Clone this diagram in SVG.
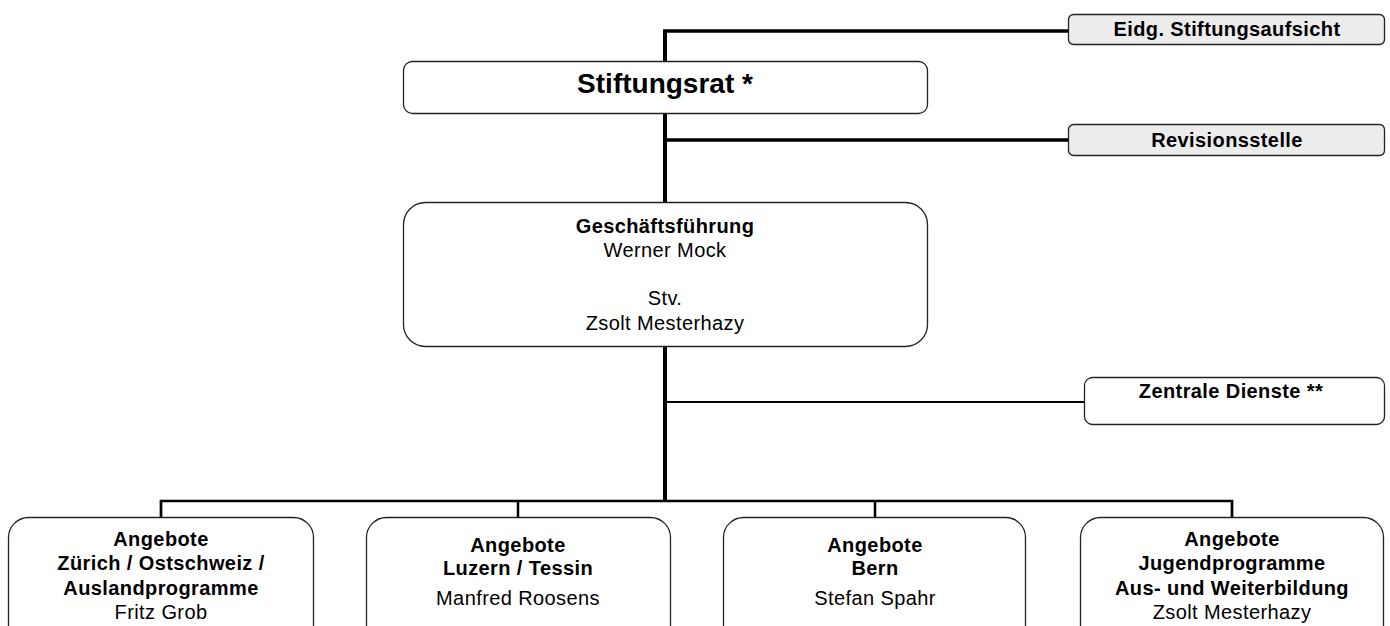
<svg xmlns="http://www.w3.org/2000/svg" width="1390" height="626" viewBox="0 0 1390 626">
<style>
.box{fill:#fff;stroke:#222;stroke-width:1.3}
.gbox{fill:#ececec;stroke:#222;stroke-width:1.3}
.t{font-family:"Liberation Sans",Arial,sans-serif;font-size:20px;letter-spacing:0.4px;fill:#000;text-anchor:middle}
.b{font-weight:bold}
.big{font-size:28px;letter-spacing:0}
.c{fill:none;stroke:#000;stroke-linecap:butt}
</style>
<rect width="1390" height="626" fill="#fff"/>
<g id="connectors">
<path class="c" d="M665 31V501" stroke-width="4"/>
<path class="c" d="M663 31H1069" stroke-width="3.3"/>
<path class="c" d="M665 140H1069" stroke-width="3.3"/>
<path class="c" d="M665 402H1084" stroke-width="2"/>
<path class="c" d="M161 517V501H1232V517" stroke-width="2.7"/>
<path class="c" d="M518 501V517M875 501V517" stroke-width="2.5"/>
</g>
<g id="aufsicht">
<rect class="gbox" x="1068.5" y="14.5" width="316" height="30" rx="5"/>
<text class="t b" x="1227" y="36">Eidg. Stiftungsaufsicht</text>
</g>
<g id="stiftungsrat">
<rect class="box" x="403.5" y="61.5" width="524" height="52" rx="9"/>
<text class="t b big" x="665" y="93">Stiftungsrat *</text>
</g>
<g id="revision">
<rect class="gbox" x="1068.5" y="124.5" width="316" height="31" rx="5"/>
<text class="t b" x="1227" y="147">Revisionsstelle</text>
</g>
<g id="geschaeftsfuehrung">
<rect class="box" x="403.5" y="202.5" width="524" height="144" rx="22"/>
<text class="t b" x="665" y="233">Geschäftsführung</text>
<text class="t" x="665" y="257">Werner Mock</text>
<text class="t" x="665" y="305">Stv.</text>
<text class="t" x="665" y="330">Zsolt Mesterhazy</text>
</g>
<g id="zentrale">
<rect class="box" x="1084.5" y="377.5" width="300" height="47" rx="8"/>
<text class="t b" x="1231" y="398">Zentrale Dienste **</text>
</g>
<g id="zuerich">
<rect class="box" x="8.5" y="517.5" width="305" height="130" rx="20"/>
<text class="t b" x="161" y="546">Angebote</text>
<text class="t b" x="161" y="570">Zürich / Ostschweiz /</text>
<text class="t b" x="161" y="595">Auslandprogramme</text>
<text class="t" x="161" y="619">Fritz Grob</text>
</g>
<g id="luzern">
<rect class="box" x="366.5" y="517.5" width="304" height="130" rx="20"/>
<text class="t b" x="518" y="552">Angebote</text>
<text class="t b" x="518" y="575">Luzern / Tessin</text>
<text class="t" x="518" y="605">Manfred Roosens</text>
</g>
<g id="bern">
<rect class="box" x="723.5" y="517.5" width="302" height="130" rx="20"/>
<text class="t b" x="875" y="552">Angebote</text>
<text class="t b" x="875" y="575">Bern</text>
<text class="t" x="875" y="605">Stefan Spahr</text>
</g>
<g id="jugend">
<rect class="box" x="1080.5" y="517.5" width="303" height="130" rx="20"/>
<text class="t b" x="1232" y="546">Angebote</text>
<text class="t b" x="1232" y="570">Jugendprogramme</text>
<text class="t b" x="1232" y="595">Aus- und Weiterbildung</text>
<text class="t" x="1232" y="619">Zsolt Mesterhazy</text>
</g>
</svg>
